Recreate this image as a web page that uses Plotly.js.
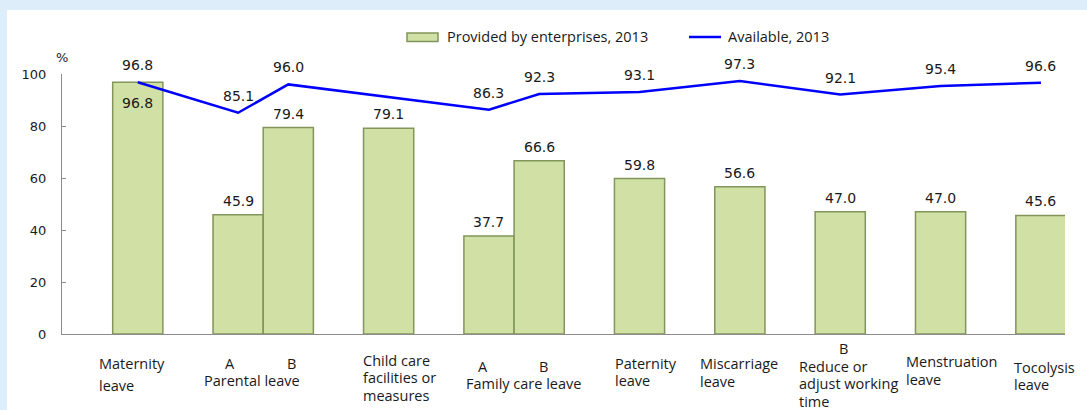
<!DOCTYPE html>
<html><head><meta charset="utf-8">
<script src="https://cdn.plot.ly/plotly-3.0.1.min.js"></script>
<style>
html,body{margin:0;padding:0;background:#ddeefa;overflow:hidden;}
#panel{position:absolute;left:7px;top:10px;right:0;bottom:0;background:#ffffff;}
#chart{position:absolute;left:0;top:0;width:1087px;height:410px;}
</style></head><body>
<div id="panel"></div><div id="chart"></div>
<script>
// ---- data ----
const categories = ["Maternity leave", "Parental leave A", "Parental leave B",
  "Child care facilities or measures", "Family care leave A", "Family care leave B",
  "Paternity leave", "Miscarriage leave", "Reduce or adjust working time B",
  "Menstruation leave", "Tocolysis leave"];
const subLabels = ["", "A", "B", "", "A", "B", "", "", "B", "", ""];
const provided  = [96.8, 45.9, 79.4, 79.1, 37.7, 66.6, 59.8, 56.6, 47.0, 47.0, 45.6];
const available = [96.8, 85.1, 96.0, null, 86.3, 92.3, 93.1, 97.3, 92.1, 95.4, 96.6];
const groupLabels = ["Maternity<br>leave", "Parental leave", "Child care<br>facilities or<br>measures",
  "Family care leave", "Paternity<br>leave", "Miscarriage<br>leave",
  "Reduce or<br>adjust working<br>time", "Menstruation<br>leave", "Tocolysis<br>leave"];
const groupMembers = [[0], [1, 2], [3], [4, 5], [6], [7], [8], [9], [10]];
const seriesNames = ["Provided by enterprises, 2013", "Available, 2013"];
const yTicks = [0, 20, 40, 60, 80, 100];
const yUnit = "%";

// ---- layout helpers ----
const W = 1087, H = 410, ML = 62, MR = 22, MT = 74, MB = 76;
const PW = W - ML - MR, PH = H - MT - MB;
const pxToPaperX = p => (p - ML) / PW;
const pyToPaperY = p => (H - MB - p) / PH;
const baseY = H - MB;

// slot positions: A/B pairs adjacent, others separated
const xpos = [];
categories.forEach((c, i) => {
  if (i === 0) xpos.push(0);
  else xpos.push(xpos[i - 1] + ((subLabels[i] === "B" && subLabels[i - 1] === "A") ? 1 : 2));
});

const BAR_FILL = "#d1e0a5", BAR_LINE = "#82955a", LINE_C = "#0000ff";
const TXT = "#1a1a1a";
const labelFont = {family: "Open Sans, sans-serif", size: 14.5, color: TXT};
const numFont = {family: "DejaVu Sans, sans-serif", size: 14, color: TXT};

const traces = [
  {type: "bar", x: xpos, y: provided, width: 1, name: seriesNames[0],
   marker: {color: BAR_FILL, line: {color: BAR_LINE, width: 1.5}},
   showlegend: false, hoverinfo: "skip"},
  {type: "scatter", mode: "lines", x: xpos, y: available, name: seriesNames[1],
   connectgaps: true, line: {color: LINE_C, width: 2.5},
   showlegend: false, hoverinfo: "skip"}
];

const ann = [];
// value labels
provided.forEach((v, i) => {
  const inside = available[i] !== null && Math.abs(available[i] - v) < 5;
  ann.push({x: xpos[i], y: v, xref: "x", yref: "y", text: v.toFixed(1), showarrow: false,
    xanchor: "center", yanchor: "middle", yshift: inside ? -21 : 14, font: numFont});
});
available.forEach((v, i) => {
  if (v === null) return;
  ann.push({x: xpos[i], y: v, xref: "x", yref: "y", text: v.toFixed(1), showarrow: false,
    xanchor: "center", yanchor: "middle", yshift: 17, font: numFont});
});
// sub labels A / B
const subStyle = {1: [-8, 363], 2: [3, 363], 4: [-6, 366], 5: [4, 366], 8: [3, 348]};
subLabels.forEach((s, i) => {
  if (!s) return;
  const st = subStyle[i] || [0, 364];
  ann.push({x: xpos[i], y: 0, xref: "x", yref: "paper", text: s, showarrow: false,
    xanchor: "center", yanchor: "middle", xshift: st[0], yshift: baseY - st[1], font: labelFont});
});
// group labels (category axis text)
const groupStyle = [
  {dx: -41, y: 363, gap: 22, a: "left"},
  {dx: -11, y: 380, gap: 18, a: "center"},
  {dx: -28, y: 360, gap: 17.5, a: "left"},
  {dx: 9, y: 383, gap: 18, a: "center"},
  {dx: -27, y: 363, gap: 17.5, a: "left"},
  {dx: -42, y: 363, gap: 18, a: "left"},
  {dx: -43, y: 366, gap: 17.5, a: "left"},
  {dx: -37, y: 361, gap: 18, a: "left"},
  {dx: -29, y: 367, gap: 17, a: "left"}
];
groupLabels.forEach((t, g) => {
  const m = groupMembers[g];
  const cx = m.reduce((s, i) => s + xpos[i], 0) / m.length;
  const st = groupStyle[g];
  t.split("<br>").forEach((line, k) => {
    ann.push({x: cx, y: 0, xref: "x", yref: "paper", text: line, showarrow: false,
      xanchor: st.a, yanchor: "middle", xshift: st.dx, yshift: baseY - (st.y + k * st.gap),
      font: labelFont});
  });
});
// unit
ann.push({x: pxToPaperX(62), y: pyToPaperY(57), xref: "paper", yref: "paper", text: yUnit,
  showarrow: false, xanchor: "center", yanchor: "middle", font: {family: "DejaVu Sans, sans-serif", size: 13, color: TXT}});
// legend text
ann.push({x: pxToPaperX(445), y: pyToPaperY(36.5), xref: "paper", yref: "paper", text: seriesNames[0],
  showarrow: false, xanchor: "left", yanchor: "middle", font: labelFont});
ann.push({x: pxToPaperX(726), y: pyToPaperY(36.5), xref: "paper", yref: "paper", text: seriesNames[1],
  showarrow: false, xanchor: "left", yanchor: "middle", font: labelFont});

const shapes = [
  {type: "rect", xref: "paper", yref: "paper", x0: pxToPaperX(407), x1: pxToPaperX(438),
   y0: pyToPaperY(33), y1: pyToPaperY(41.5), fillcolor: BAR_FILL, line: {color: BAR_LINE, width: 1.5}},
  {type: "line", xref: "paper", yref: "paper", x0: pxToPaperX(689), x1: pxToPaperX(721),
   y0: pyToPaperY(37), y1: pyToPaperY(37), line: {color: LINE_C, width: 2.5}}
];

const layout = {
  width: W, height: H,
  margin: {l: ML, r: MR, t: MT, b: MB, pad: 0},
  paper_bgcolor: "rgba(0,0,0,0)", plot_bgcolor: "rgba(0,0,0,0)",
  showlegend: false,
  xaxis: {range: [-1.51, 18.48], showline: true, linecolor: "#8c8c8c", linewidth: 1,
    showgrid: false, zeroline: false, showticklabels: false, ticks: "", fixedrange: true},
  yaxis: {range: [0, 100], tickvals: yTicks, ticktext: yTicks.map(String), showline: true,
    linecolor: "#8c8c8c", linewidth: 1, ticks: "inside", ticklen: 4, tickcolor: "#8c8c8c",
    showgrid: false, zeroline: false, ticklabelstandoff: 12,
    tickfont: {family: "DejaVu Sans, sans-serif", size: 13, color: TXT}, fixedrange: true},
  annotations: ann, shapes: shapes
};
Plotly.newPlot("chart", traces, layout, {displayModeBar: false, staticPlot: true});
</script>
</body></html>
